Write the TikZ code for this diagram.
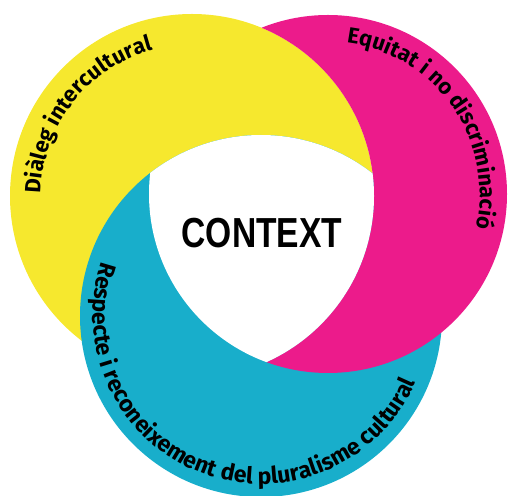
\documentclass[tikz,border=0pt]{standalone}
\usepackage{fontspec}
\usetikzlibrary{decorations.text}
\newfontfamily\arcfont{Fira Sans}
\newfontfamily\ctxfont[FakeStretch=0.8]{Liberation Sans}
\definecolor{yelclr}{RGB}{246,232,46}
\definecolor{magclr}{RGB}{236,27,139}
\definecolor{cyaclr}{RGB}{24,174,203}
\tikzset{
  arclabel/.style={decorate, decoration={text along path, text align=center,
      text={|\arcfont\bfseries\fontsize{22}{22}\selectfont|#1}}},
  arclabelbig/.style={decorate, decoration={text along path, text align=center,
      text={|\arcfont\bfseries\fontsize{23}{23}\selectfont|#1}}},
}
\begin{document}
\begin{tikzpicture}[x=1pt,y=1pt]
\useasboundingbox (0,0) rectangle (508,495);
\coordinate (Y) at (192,299);
\coordinate (M) at (328,301);
\coordinate (C) at (261,179);
% circles
\fill[yelclr] (Y) circle[radius=182pt];
\fill[cyaclr] (C) circle[radius=181pt];
\begin{scope}[even odd rule]
  \clip (-10,-10) rectangle (520,510) (Y) circle[radius=182pt];
  \fill[magclr] (M) circle[radius=179pt];
\end{scope}
\begin{scope}
  \clip (M) circle[radius=179pt];
  \clip (Y) circle[radius=182pt];
  \fill[white] (C) circle[radius=181pt];
\end{scope}
% labels
\node[font=\ctxfont\bfseries\fontsize{42}{42}\selectfont] (ctx) at (262,262) {CONTEXT};
\path[arclabel={Diàleg intercultural}] (Y) ++(202:151pt) arc[start angle=202, end angle=82, radius=151pt];
\path[arclabel={Equitat i no discriminació}] (M) ++(100:152pt) arc[start angle=100, end angle=-30, radius=152pt];
\path[arclabelbig={Respecte i reconeixement del pluralisme cultural}] (C) ++(149:168pt) arc[start angle=149, end angle=349, radius=168pt];
\end{tikzpicture}
\end{document}
